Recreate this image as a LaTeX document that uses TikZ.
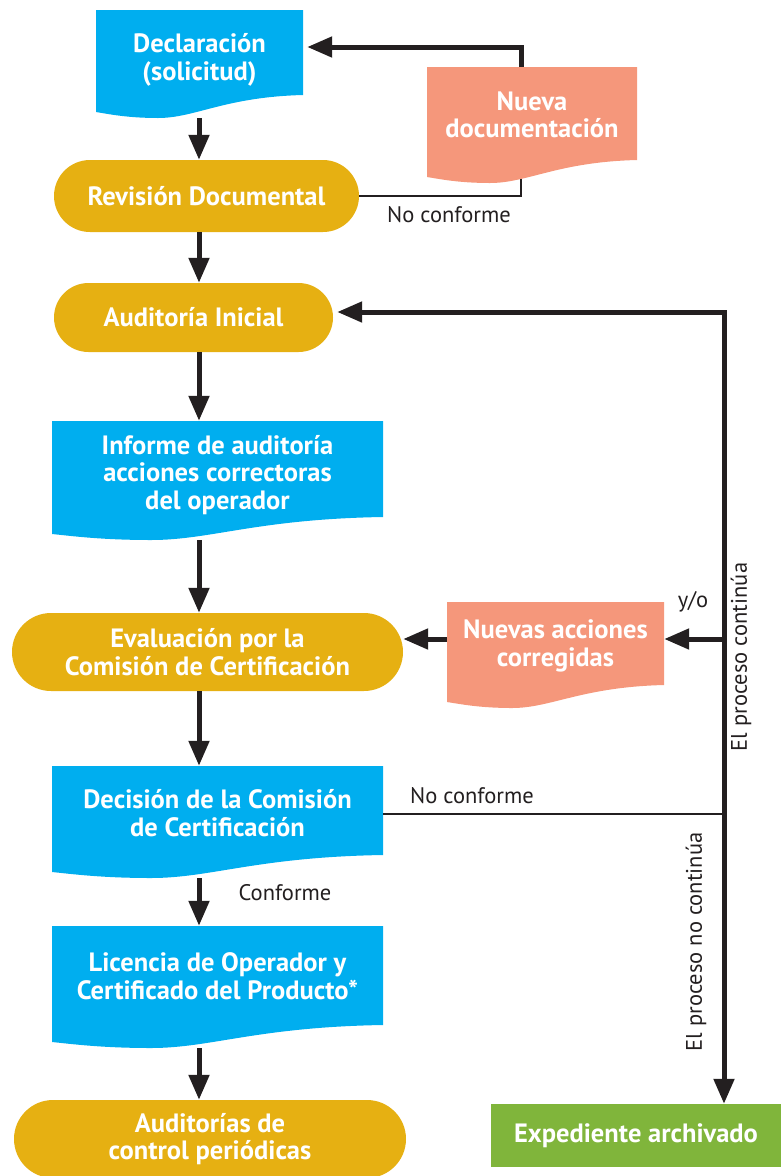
\documentclass[tikz,border=0pt]{standalone}
\usepackage{fontspec}
\setmainfont{PT Sans}
\usetikzlibrary{arrows.meta,shapes.misc,calc}
\definecolor{cblue}{HTML}{00AEEF}
\definecolor{cgold}{HTML}{E6B012}
\definecolor{csalmon}{HTML}{F5977B}
\definecolor{cgreen}{HTML}{80B53B}
\definecolor{cdark}{HTML}{231F20}
\begin{document}
\begin{tikzpicture}[x=1pt,y=-1pt,
  boxtxt/.style={text=white, font=\fontsize{26.5}{27.5}\selectfont\bfseries, align=center, inner sep=0pt},
  pill/.style={rounded rectangle, fill=cgold, boxtxt},
  doc/.style={rectangle, inner sep=0pt, path picture={
    \fill[#1] let \p1=(path picture bounding box.south west), \p2=(path picture bounding box.north east), \n1={\x2-\x1} in
      (\x1,\y2) -- (\x2,\y2) -- (\x2,{\y1+23}) .. controls ({\x1+0.62*\n1},{\y1+21}) and ({\x1+0.48*\n1},{\y1}) .. ({\x1+0.3*\n1},{\y1})
      .. controls ({\x1+0.15*\n1},{\y1}) and ({\x1+0.06*\n1},{\y1+4}) .. (\x1,{\y1+6}) -- cycle;}},
  lbl/.style={text=cdark, font=\fontsize{22.5}{26}\selectfont, inner sep=0pt},
  arr/.style={line width=5pt, draw=cdark, -{Triangle[length=25pt,width=20pt]}},
  thinl/.style={line width=2.5pt, draw=cdark}]
\useasboundingbox (0,0) rectangle (781,1176);

\node[doc=cblue, minimum width=207, minimum height=108] (decl) at (199.5,64) {};
\node[boxtxt] (declt) at (199.5,60) {Declaración\\(solicitud)};
\node[doc=csalmon, minimum width=210, minimum height=116] (nueva) at (532,125) {};
\node[boxtxt] (nuevat) at (532,115) {Nueva\\documentación};
\node[pill, minimum width=305, minimum height=72] (rev) at (206.5,196) {Revisión Documental};
\node[pill, minimum width=279, minimum height=69] (audi) at (193.5,317.5) {Auditoría Inicial};
\node[doc=cblue, minimum width=331, minimum height=119] (inf) at (217.5,480.5) {};
\node[boxtxt] (inft) at (217.5,475) {Informe de auditoría\\acciones correctoras\\del operador};
\node[pill, minimum width=391, minimum height=78] (eval) at (207.5,652) {Evaluación por la\\Comisión de Certificación};
\node[doc=csalmon, minimum width=217, minimum height=106] (nac) at (555.5,655) {};
\node[boxtxt] (nact) at (555.5,646) {Nuevas acciones\\corregidas};
\node[doc=cblue, minimum width=331, minimum height=112] (dec) at (217.5,822) {};
\node[boxtxt] (dect) at (217.5,813) {Decisión de la Comisión\\de Certificación};
\node[doc=cblue, minimum width=331, minimum height=122] (lic) at (217.5,987) {};
\node[boxtxt] (lict) at (217.5,976) {Licencia de Operador y\\Certificado del Producto*};
\node[pill, minimum width=392, minimum height=78] (audc) at (210,1139) {Auditorías de\\control periódicas};
\node[fill=cgreen, boxtxt, minimum width=290, minimum height=63] (exp) at (636,1135.5) {Expediente archivado};

\coordinate (col) at (199,0);
\draw[arr] (decl.south -| col) -- (rev.north -| col);
\draw[arr] (rev.south -| col) -- (audi.north -| col);
\draw[arr] (audi.south -| col) -- (inf.north -| col);
\draw[arr] (inf.south -| col) -- (eval.north -| col);
\draw[arr] (eval.south -| col) -- (dec.north -| col);
\draw[arr] (dec.south -| col) -- (lic.north -| col);
\draw[arr] (lic.south -| col) -- (audc.north -| col);

\coordinate (up) at (521,47);
\draw[arr, shorten >=4pt] (nueva.north -| up) -- (up) -- (up -| decl.east);
\draw[thinl] (rev.east) -| ($(nueva.south -| up)+(0,-4)$);

\coordinate (bus) at (724,312);
\draw[line width=5pt, draw=cdark, {Triangle[length=25pt,width=20pt]}-{Triangle[length=25pt,width=20pt]}, shorten <=4pt] (bus -| audi.east) -- (bus) -- (bus |- exp.north);
\coordinate (yo) at (724,639);
\draw[arr] (yo) -- (yo -| nac.east);
\draw[arr] (yo -| nac.west) -- (yo -| eval.east);
\coordinate (nc) at (724,814);
\draw[thinl] (nc -| dec.east) -- (nc);

\node[lbl] (l1) at (449,215) {No conforme};
\node[lbl] (l2) at (693,602) {y/o};
\node[lbl, rotate=90] (l3) at (741,657) {El proceso continúa};
\node[lbl] (l4) at (472,796) {No conforme};
\node[lbl] (l5) at (285,893) {Conforme};
\node[lbl, rotate=90] (l6) at (696,942) {El proceso no continúa};
\end{tikzpicture}
\end{document}
